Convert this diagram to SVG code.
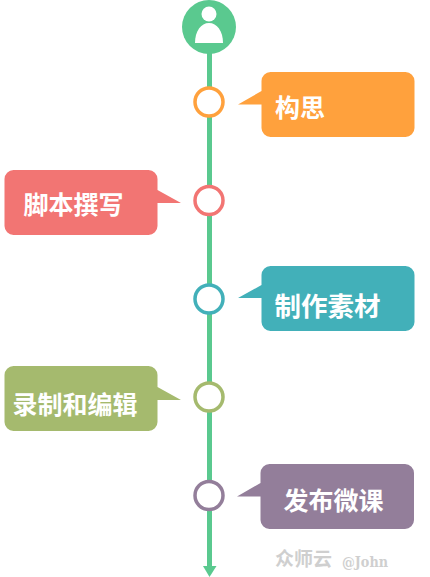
<svg xmlns="http://www.w3.org/2000/svg" width="430" height="577" viewBox="0 0 430 577">
<style>
.t{font-family:"Noto Sans CJK SC",sans-serif;font-size:25px;font-weight:700;fill:#fff}
.c{fill:#fff;stroke-width:3.5}
</style>
<rect width="430" height="577" fill="#fff"/>
<g id="connectors">
<line x1="209.500" y1="50" x2="209.500" y2="568" stroke="#5ac98f" stroke-width="5"/>
<path d="M203 566H216.500L209.500 577Z" fill="#5ac98f"/>
</g>
<g id="person">
<circle cx="209" cy="27" r="27" fill="#5ac98f"/>
<circle cx="209" cy="14" r="7.500" fill="#fff"/>
<path d="M195 43C195 31 201 23 209 23C217 23 223 31 223 43Z" fill="#fff"/>
</g>
<g id="node1">
<circle class="c" cx="209" cy="102" r="14" stroke="#ffa13d"/>
<path d="M238 104.500L261.500 91V81a9 9 0 0 1 9-9H405.500a9 9 0 0 1 9 9V128a9 9 0 0 1-9 9H270.500a9 9 0 0 1-9-9V104.500Z" fill="#ffa13d"/>
<text class="t" x="275" y="117">构思</text>
</g>
<g id="node2">
<circle class="c" cx="209" cy="200.500" r="14" stroke="#f27573"/>
<path d="M181 203L157.500 190V179a9 9 0 0 0-9-9H13.500a9 9 0 0 0-9 9V226a9 9 0 0 0 9 9H148.500a9 9 0 0 0 9-9V203Z" fill="#f27573"/>
<text class="t" x="23.500" y="214">脚本撰写</text>
</g>
<g id="node3">
<circle class="c" cx="209" cy="299" r="14" stroke="#42b0b9"/>
<path d="M238 298L261.500 285V275a9 9 0 0 1 9-9H405.500a9 9 0 0 1 9 9V322a9 9 0 0 1-9 9H270.500a9 9 0 0 1-9-9V298Z" fill="#42b0b9"/>
<text class="t" x="274.500" y="316" style="font-size:26.500px">制作素材</text>
</g>
<g id="node4">
<circle class="c" cx="209" cy="397" r="14" stroke="#a5ba6e"/>
<path d="M181 400L157.500 387V375a9 9 0 0 0-9-9H13.500a9 9 0 0 0-9 9V422a9 9 0 0 0 9 9H148.500a9 9 0 0 0 9-9V400Z" fill="#a5ba6e"/>
<text class="t" x="12.500" y="414">录制和编辑</text>
</g>
<g id="node5">
<circle class="c" cx="209" cy="495.500" r="14" stroke="#937e9a"/>
<path d="M237 496.500L260.500 483V473a9 9 0 0 1 9-9H405a9 9 0 0 1 9 9V520a9 9 0 0 1-9 9H269.500a9 9 0 0 1-9-9V496.500Z" fill="#937e9a"/>
<text class="t" x="283.500" y="510">发布微课</text>
</g>
<g id="watermark" fill="#cfcfcf" font-weight="700" font-family="Noto Sans CJK SC,sans-serif">
<text x="275" y="566" font-size="19">众师云</text>
<text x="342" y="567" font-size="14" font-family="DejaVu Serif,serif" textLength="46" lengthAdjust="spacingAndGlyphs">@John</text>
</g>
</svg>
